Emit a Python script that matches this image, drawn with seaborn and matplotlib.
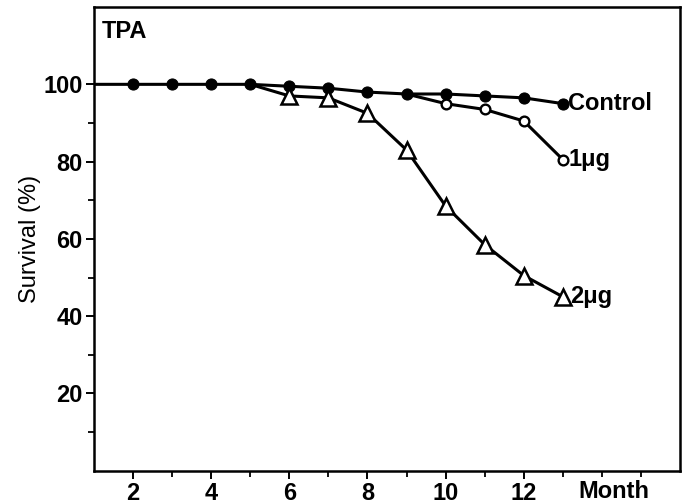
import numpy as np
import pandas as pd
import seaborn as sns
import matplotlib.pyplot as plt
from matplotlib.ticker import FixedLocator

sns.set_style("ticks")
plt.rcParams['font.family'] = ['Liberation Sans', 'DejaVu Sans']
plt.rcParams['text.color'] = 'black'
plt.rcParams['axes.labelcolor'] = 'black'

# survival (%) by month
control_month = [1, 2, 3, 4, 5, 6, 7, 8, 9, 10, 11, 12, 13]
control_surv = [100, 100, 100, 100, 100, 99.5, 99, 98, 97.5, 97.5, 97, 96.5, 95]
ug1_month = [9, 10, 11, 12, 13]
ug1_surv = [97.5, 95, 93.5, 90.5, 80.5]
ug2_month = [5, 6, 7, 8, 9, 10, 11, 12, 13]
ug2_surv = [100, 97, 96.5, 92.5, 83, 68.5, 58.5, 50.5, 45]
series_labels = ["Control", "1\u03bcg", "2\u03bcg"]
x_ticks = [2, 4, 6, 8, 10, 12]
y_ticks = [20, 40, 60, 80, 100]

fig = plt.figure(figsize=(6.85, 5.04), dpi=100)
ax = fig.add_axes([0.137, 0.066, 0.856, 0.920])

sns.lineplot(x=control_month, y=control_surv, ax=ax, color='black', lw=2.2,
             marker='o', markersize=8, markerfacecolor='black',
             markeredgecolor='black', markevery=list(range(1, 13)))
sns.lineplot(x=ug1_month, y=ug1_surv, ax=ax, color='black', lw=2.2,
             marker='o', markersize=7, markerfacecolor='white',
             markeredgecolor='black', markeredgewidth=1.7,
             markevery=list(range(1, 5)))
sns.lineplot(x=ug2_month, y=ug2_surv, ax=ax, color='black', lw=2.2,
             marker='^', markersize=11, markerfacecolor='white',
             markeredgecolor='black', markeredgewidth=1.8,
             markevery=list(range(1, 9)))

# end labels
fs = 17
fw = 'bold'
ax.text(control_month[-1] + 0.12, control_surv[-1], series_labels[0],
        fontsize=fs, fontweight=fw, va='center', ha='left')
ax.text(ug1_month[-1] + 0.15, ug1_surv[-1], series_labels[1],
        fontsize=fs, fontweight=fw, va='center', ha='left')
ax.text(ug2_month[-1] + 0.18, ug2_surv[-1], series_labels[2],
        fontsize=fs, fontweight=fw, va='center', ha='left')
ax.text(0.014, 0.972, "TPA", transform=ax.transAxes, fontsize=fs,
        fontweight=fw, va='top', ha='left')

ax.set_xlim(1, 16)
ax.set_ylim(0, 120)
ax.xaxis.set_major_locator(FixedLocator(x_ticks))
ax.xaxis.set_minor_locator(FixedLocator([3, 5, 7, 9, 11, 13, 14, 15]))
ax.yaxis.set_major_locator(FixedLocator(y_ticks))
ax.yaxis.set_minor_locator(FixedLocator([10, 30, 50, 70, 90]))
ax.tick_params(which='major', direction='out', length=6, width=1.4,
               labelsize=fs, pad=2, color='black', labelcolor='black')
ax.tick_params(which='minor', direction='out', length=4, width=1.3,
               color='black')
for lab in ax.get_xticklabels() + ax.get_yticklabels():
    lab.set_fontweight(fw)
ax.text(14.3, -0.02, "Month", transform=ax.get_xaxis_transform(),
        fontsize=fs, fontweight=fw, ha='center', va='top')

ax.set_xlabel("")
ax.set_ylabel("Survival (%)", fontsize=17, labelpad=2, color='black')
for sp in ax.spines.values():
    sp.set_visible(True)
    sp.set_linewidth(1.8)
    sp.set_color('black')

fig.savefig("out.png", dpi=100)
